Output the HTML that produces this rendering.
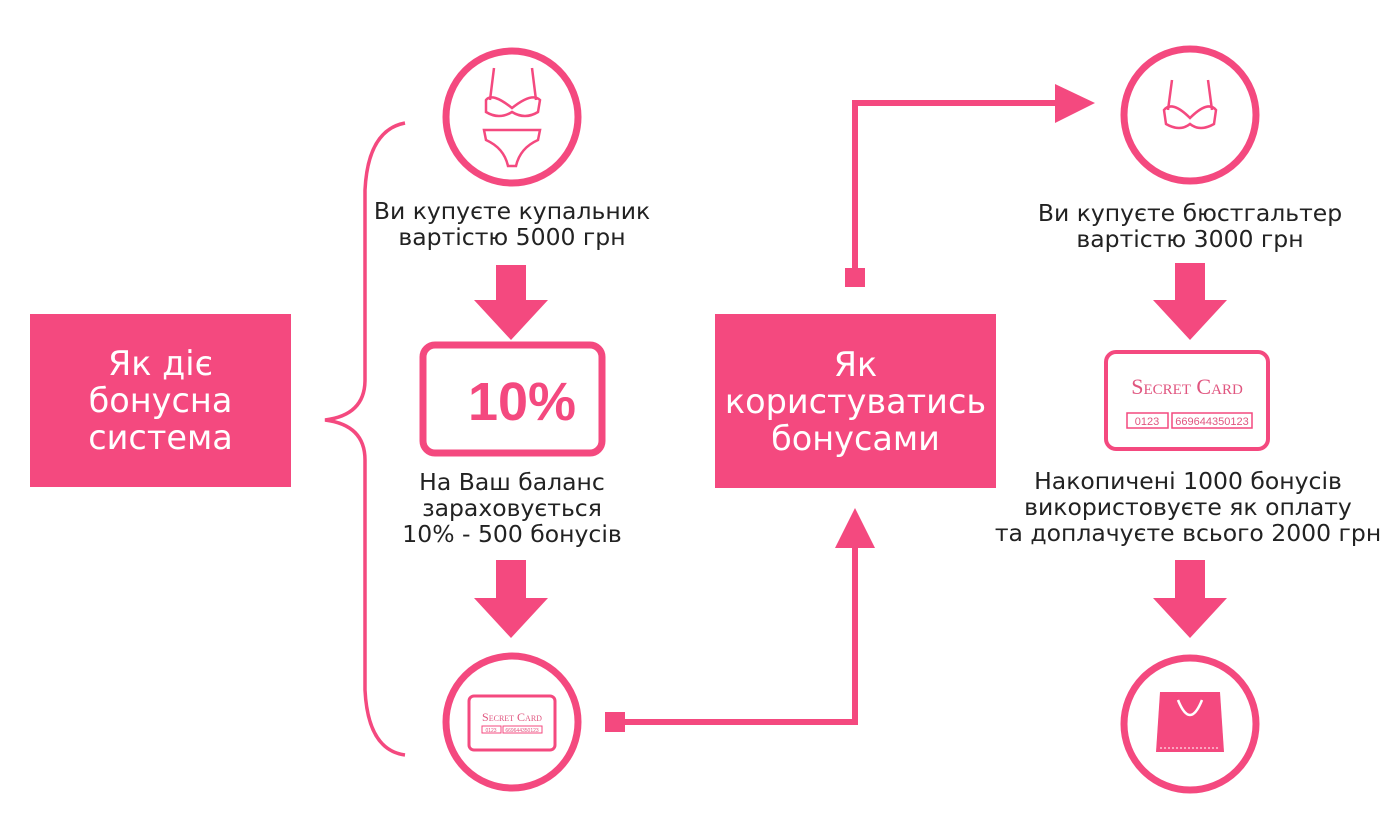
<!DOCTYPE html>
<html><head><meta charset="utf-8"><style>
body{margin:0;width:1400px;height:839px;background:#fff;position:relative;overflow:hidden;font-family:"DejaVu Sans","Liberation Sans",sans-serif;color:#222}
.t{position:absolute;text-align:center;font-size:23.5px;line-height:26px;transform:translateX(-50%);white-space:nowrap}
.box{position:absolute;background:#f4497f;color:#fff;display:flex;align-items:center;justify-content:center;text-align:center;font-size:33.5px;line-height:37px}
</style></head><body>
<div class="box" style="left:30px;top:314px;width:261px;height:173px">Як діє<br>бонусна<br>система</div>
<div class="box" style="left:715px;top:314px;width:281px;height:174px">Як<br>користуватись<br>бонусами</div>
<div class="t" style="left:512px;top:198px">Ви купуєте купальник<br>вартістю 5000 грн</div>
<div class="t" style="left:512px;top:469px">На Ваш баланс<br>зараховується<br>10% - 500 бонусів</div>
<div class="t" style="left:1190px;top:200px">Ви купуєте бюстгальтер<br>вартістю 3000 грн</div>
<div class="t" style="left:1188px;top:468px">Накопичені 1000 бонусів<br>використовуєте як оплату<br>та доплачуєте всього 2000 грн</div>
<svg width="1400" height="839" style="position:absolute;left:0;top:0" fill="none" stroke="#f4497f">
<circle cx="512" cy="117" r="66" stroke-width="7"/>
<circle cx="512" cy="722" r="66" stroke-width="7"/>
<circle cx="1190" cy="115" r="66" stroke-width="7"/>
<circle cx="1190" cy="724" r="66" stroke-width="7"/>
<g stroke-width="2.5">
<path d="M494 68 L490 100 M532 68 L536 100"/>
<path d="M486 100 Q492 92 512 108 Q532 92 540 100 L538 112 Q525 120 512 112 Q499 120 486 112 Z"/>
<path d="M484 130 L540 130 L538 140 Q520 148 516 166 L508 166 Q504 148 486 140 Z"/>
</g>
<g stroke-width="2.5">
<path d="M1172 80 L1168 110 M1208 80 L1212 110"/>
<path d="M1164 110 Q1172 100 1190 118 Q1208 100 1216 110 L1214 124 Q1200 132 1190 124 Q1180 132 1166 124 Z"/>
</g>
<path d="M1160 692 L1220 692 L1224 752 L1156 752 Z" fill="#f4497f" stroke="none"/>
<path d="M1178 700 Q1190 730 1202 700" stroke="#fff" stroke-width="2.5"/>
<path d="M1160 748 L1220 748" stroke="#fff" stroke-width="1" stroke-dasharray="2 2"/>
<rect x="469" y="696" width="86" height="54" rx="5" stroke-width="3"/>
<rect x="482" y="726" width="19" height="7" stroke-width="1"/>
<rect x="503" y="726" width="39" height="7" stroke-width="1"/>
<rect x="1106" y="352" width="162" height="97" rx="10" stroke-width="4"/>
<rect x="1127" y="413" width="41" height="15" stroke-width="1.5"/>
<rect x="1172" y="413" width="80" height="15" stroke-width="1.5"/>
<rect x="423" y="345" width="179" height="108" rx="12" stroke-width="7"/>
<path d="M405 123 Q368 130 365 190 L365 380 Q365 415 325 420 Q365 425 365 460 L365 690 Q368 750 405 755" stroke-width="3.5"/>
<path d="M625 722 L855 722 L855 545 M855 270 L855 103 L1058 103" stroke-width="6"/>
<g fill="#f4497f" stroke="none">
<rect x="605" y="712" width="20" height="20"/>
<rect x="845" y="268" width="20" height="19"/>
<polygon points="835,548 875,548 855,508"/>
<polygon points="1055,84 1095,103 1055,123"/>
<polygon points="496,265 526,265 526,300 548,300 511,340 474,300 496,300"/>
<polygon points="496,560 526,560 526,598 548,598 511,638 474,598 496,598"/>
<polygon points="1175,263 1205,263 1205,300 1227,300 1190,340 1153,300 1175,300"/>
<polygon points="1175,560 1205,560 1205,598 1227,598 1190,638 1153,598 1175,598"/>
</g>
<text x="522" y="420" fill="#f4497f" stroke="none" font-family="Liberation Sans" font-weight="bold" font-size="54" text-anchor="middle">10%</text>
<text x="1187" y="394" fill="#e0557f" stroke="none" font-family="Liberation Serif" font-size="22" text-anchor="middle" style="font-variant:small-caps">Secret Card</text>
<text x="1147" y="425" fill="#e0557f" stroke="none" font-family="Liberation Sans" font-size="11" text-anchor="middle">0123</text>
<text x="1212" y="425" fill="#e0557f" stroke="none" font-family="Liberation Sans" font-size="11" text-anchor="middle">669644350123</text>
<text x="512" y="721" fill="#e0557f" stroke="none" font-family="Liberation Serif" font-size="12" text-anchor="middle" style="font-variant:small-caps">Secret Card</text>
<text x="491" y="732" fill="#e0557f" stroke="none" font-family="Liberation Sans" font-size="5" text-anchor="middle">0123</text>
<text x="522" y="732" fill="#e0557f" stroke="none" font-family="Liberation Sans" font-size="5" text-anchor="middle">669644350123</text>
</svg>
</body></html>
